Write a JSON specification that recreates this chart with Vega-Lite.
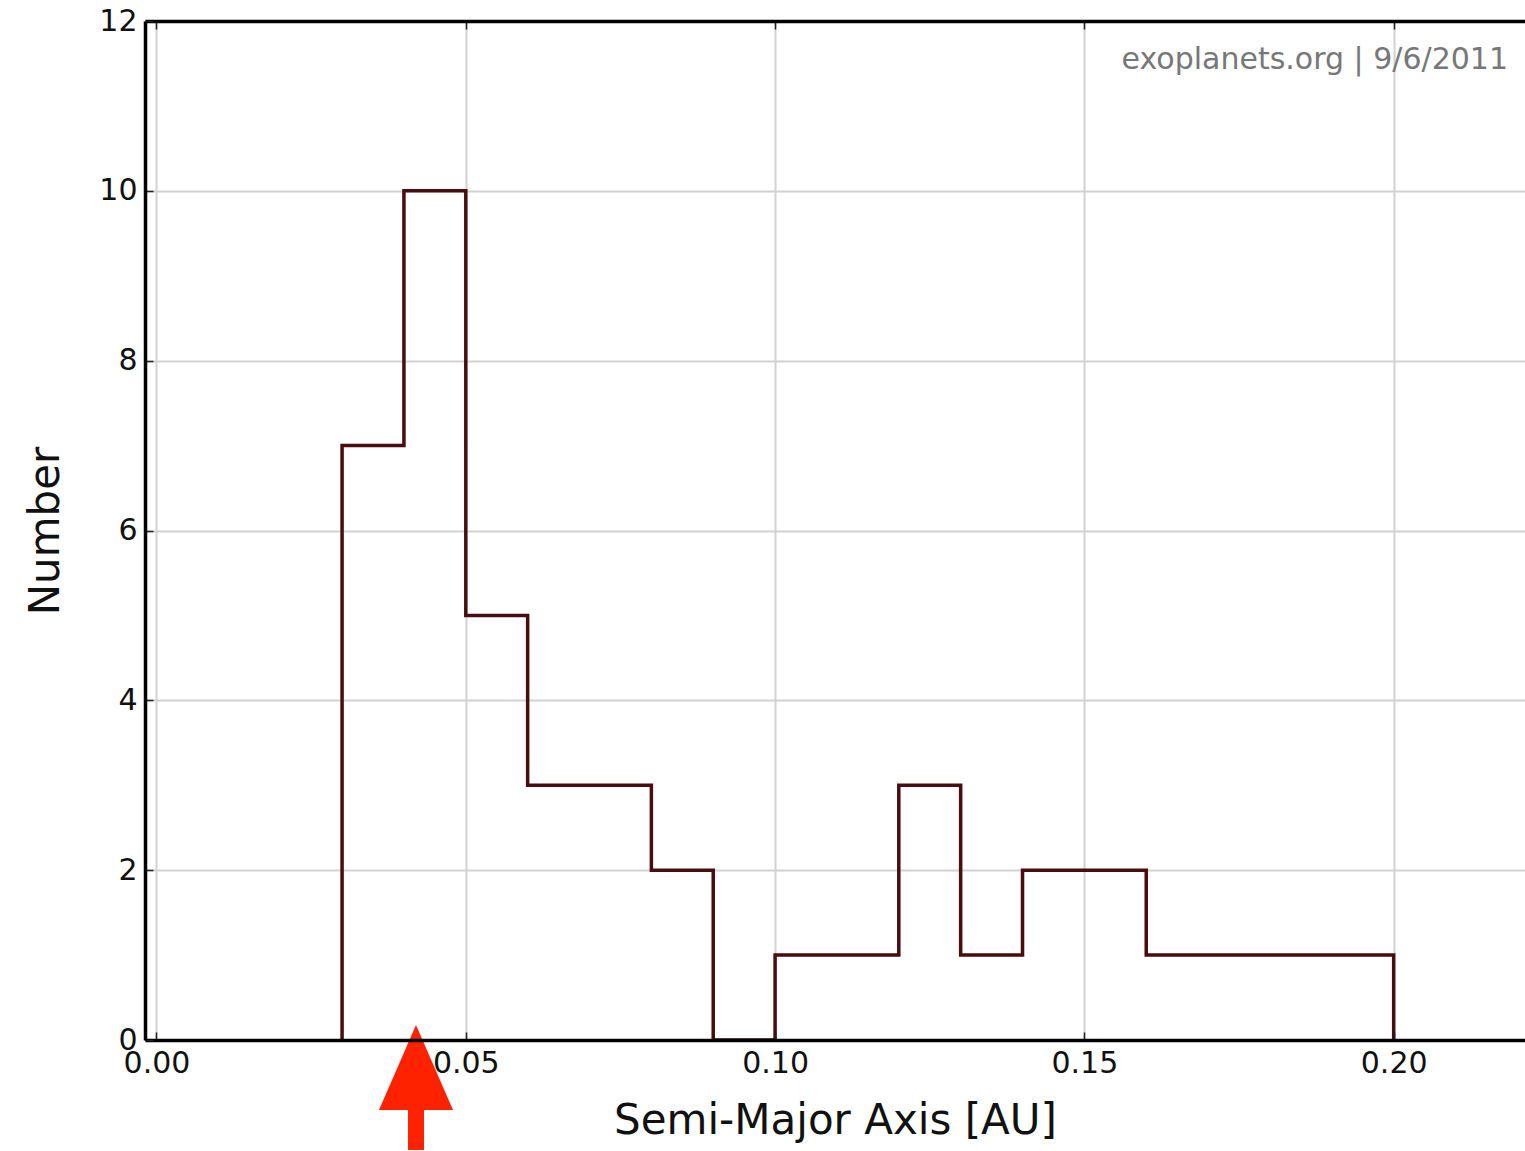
{
  "$schema": "https://vega.github.io/schema/vega-lite/v6.json",
  "width": 1380,
  "height": 1019,
  "autosize": {"type": "none"},
  "padding": {"left": 145, "top": 21, "right": 0, "bottom": 111},
  "background": "white",
  "config": {
    "view": {"stroke": null},
    "font": "DejaVu Sans",
    "axis": {
      "domainColor": "black",
      "domainWidth": 3.5,
      "gridColor": "#d2d2d2",
      "gridWidth": 2,
      "tickColor": "#222222",
      "tickWidth": 1.5,
      "tickSize": -8,
      "labelFont": "DejaVu Sans",
      "labelFontSize": 30,
      "labelColor": "#111111",
      "titleFont": "DejaVu Sans",
      "titleFontSize": 42,
      "titleFontWeight": "normal",
      "titleColor": "#111111"
    }
  },
  "datasets": {
    "hist": [
      {"step": 0, "edge": 0.03, "count": 0},
      {"step": 1, "edge": 0.03, "count": 7},
      {"step": 2, "edge": 0.04, "count": 10},
      {"step": 3, "edge": 0.05, "count": 5},
      {"step": 4, "edge": 0.06, "count": 3},
      {"step": 5, "edge": 0.07, "count": 3},
      {"step": 6, "edge": 0.08, "count": 2},
      {"step": 7, "edge": 0.09, "count": 0},
      {"step": 8, "edge": 0.10, "count": 1},
      {"step": 9, "edge": 0.11, "count": 1},
      {"step": 10, "edge": 0.12, "count": 3},
      {"step": 11, "edge": 0.13, "count": 1},
      {"step": 12, "edge": 0.14, "count": 2},
      {"step": 13, "edge": 0.15, "count": 2},
      {"step": 14, "edge": 0.16, "count": 1},
      {"step": 15, "edge": 0.17, "count": 1},
      {"step": 16, "edge": 0.18, "count": 1},
      {"step": 17, "edge": 0.19, "count": 1},
      {"step": 18, "edge": 0.20, "count": 0}
    ],
    "credit": [{"a": 0.21848, "n": 11.435, "label": "exoplanets.org | 9/6/2011"}],
    "marker": [{"a": 0.04195, "n": -0.5588}]
  },
  "layer": [
    {
      "data": {"name": "hist"},
      "mark": {"type": "line", "interpolate": "step-after", "color": "#4a0d0d", "strokeWidth": 3.5, "clip": true},
      "encoding": {
        "x": {
          "field": "edge",
          "type": "quantitative",
          "scale": {"domain": [-0.001859, 0.22123], "nice": false, "zero": false},
          "axis": {
            "orient": "bottom",
            "zindex": 1,
            "grid": false,
            "values": [0, 0.05, 0.1, 0.15, 0.2],
            "format": ".2f",
            "labelPadding": 16,
            "title": "Semi-Major Axis [AU]",
            "titleY": 93,
            "titleBaseline": "alphabetic"
          }
        },
        "y": {
          "field": "count",
          "type": "quantitative",
          "scale": {"domain": [0, 12], "nice": false, "zero": false},
          "axis": {
            "orient": "left",
            "zindex": 1,
            "grid": false,
            "values": [0, 2, 4, 6, 8, 10, 12],
            "labelPadding": 16,
            "title": "Number",
            "titleX": -87,
            "titleBaseline": "alphabetic"
          }
        },
        "order": {"field": "step", "type": "quantitative"}
      }
    },
    {
      "data": {"name": "credit"},
      "mark": {"type": "text", "align": "right", "baseline": "alphabetic", "font": "DejaVu Sans", "fontSize": 30, "color": "#777777"},
      "encoding": {
        "x": {
          "field": "a",
          "type": "quantitative",
          "axis": {"orient": "top", "zindex": 0, "values": [0, 0.05, 0.1, 0.15, 0.2], "labels": false, "grid": true, "title": null}
        },
        "y": {
          "field": "n",
          "type": "quantitative",
          "axis": {"orient": "right", "zindex": 0, "values": [0, 2, 4, 6, 8, 10, 12], "labels": false, "domain": false, "ticks": false, "grid": true, "title": null}
        },
        "text": {"field": "label"}
      }
    },
    {
      "data": {"name": "marker"},
      "mark": {
        "type": "point",
        "shape": "M0,-1L0.592,0.36L0.128,0.36L0.128,1L-0.128,1L-0.128,0.36L-0.592,0.36Z",
        "size": 15625,
        "filled": true,
        "color": "#ff2200",
        "opacity": 1,
        "strokeWidth": 0,
        "clip": false
      },
      "encoding": {
        "x": {"field": "a", "type": "quantitative", "axis": null},
        "y": {"field": "n", "type": "quantitative", "axis": null}
      }
    }
  ],
  "resolve": {"axis": {"x": "independent", "y": "independent"}}
}
